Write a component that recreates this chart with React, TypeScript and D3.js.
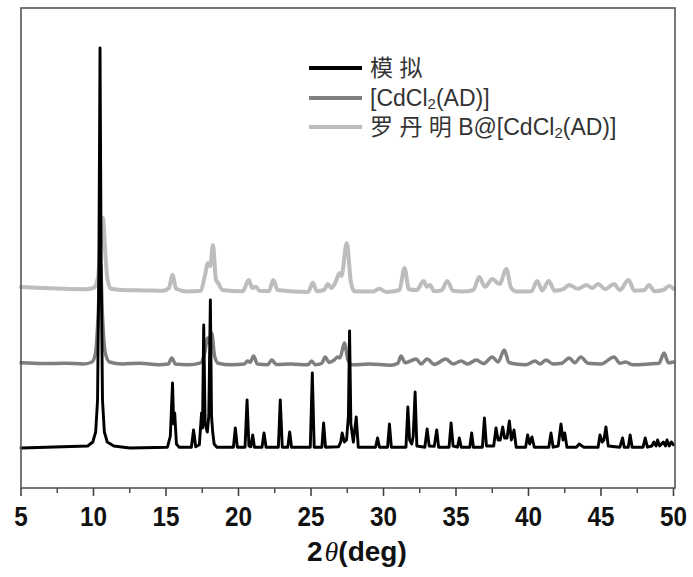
import React from "react";
import * as d3 from "d3";

// 2θ (deg) / intensity (a.u.)
const simulated: [number, number][] = [
  [5, 0], [9.6, 0.5], [9.95, 1.5], [10.15, 4], [10.28, 12], [10.37, 45], [10.45, 100], [10.53, 45], [10.62, 12], [10.75, 4], [10.95, 1.5], [11.4, 0.5], [12.5, 0],
  [15.1, 0.2], [15.3, 3], [15.45, 16.25], [15.53, 6], [15.6, 8.75], [15.72, 1], [15.9, 0.2],
  [16.75, 0.2], [16.9, 4.5], [17.05, 0.3], [17.3, 0.8], [17.45, 8.75], [17.52, 5], [17.6, 30.75], [17.7, 6], [17.85, 4], [17.95, 8], [18.06, 37], [18.14, 8], [18.22, 4], [18.32, 1], [18.5, 0.2],
  [19.65, 0.2], [19.78, 5], [19.92, 0.2], [20.45, 0.2], [20.59, 12], [20.72, 0.5], [20.85, 0.3], [20.98, 3.25], [21.1, 0.2],
  [21.62, 0.2], [21.76, 3.75], [21.9, 0.2], [22.75, 0.2], [22.88, 12], [23.02, 0.2], [23.4, 0.2], [23.53, 4], [23.66, 0.2],
  [24.95, 0.2], [25.09, 18.75], [25.22, 0.2], [25.75, 0.2], [25.87, 6.25], [26.0, 0.2],
  [26.9, 0.3], [27.05, 1.5], [27.15, 3.75], [27.3, 1.5], [27.45, 2], [27.58, 8], [27.66, 29.25], [27.75, 6], [27.92, 1.5], [28.12, 7.75], [28.26, 0.2],
  [29.45, 0.2], [29.59, 2.5], [29.72, 0.2], [30.28, 0.2], [30.41, 6], [30.54, 0.2],
  [31.55, 0.2], [31.68, 10.25], [31.8, 2], [31.95, 1], [32.05, 3], [32.18, 14], [32.3, 0.5],
  [32.85, 0.2], [33.01, 4.75], [33.15, 0.5], [33.5, 0.4], [33.67, 4.5], [33.8, 0.2],
  [34.52, 0.2], [34.66, 6.25], [34.8, 0.5], [35.1, 0.2], [35.23, 2.5], [35.36, 0.2], [35.95, 0.2], [36.08, 3.75], [36.2, 0.2],
  [36.82, 0.2], [36.96, 7.5], [37.1, 0.5], [37.6, 0.5], [37.76, 5], [37.9, 2], [38.05, 2], [38.22, 5.25], [38.35, 2.5], [38.52, 2.5], [38.68, 6.75], [38.82, 2], [39.0, 4.5], [39.15, 0.2],
  [39.8, 0.2], [39.94, 3.25], [40.08, 1], [40.24, 2.75], [40.4, 0.2], [41.4, 0.2], [41.55, 3.75], [41.7, 0.2],
  [42.05, 0.5], [42.24, 6], [42.38, 2], [42.5, 3.75], [42.65, 0.2], [43.3, 0.2], [43.5, 1], [43.8, 0.2],
  [44.8, 0.2], [44.93, 3.25], [45.08, 1.5], [45.2, 2], [45.34, 5.25], [45.5, 0.5], [46.3, 0.2], [46.49, 2.5], [46.6, 0.2],
  [46.88, 0.2], [47.01, 3.25], [47.15, 0.2], [47.9, 0.2], [48.05, 2.5], [48.2, 0.2], [48.5, 0.5], [48.65, 1.5], [48.8, 0.5],
  [48.9, 2], [49.05, 0.5], [49.3, 1.5], [49.45, 0.5], [49.55, 2], [49.7, 0.5], [49.85, 1.5], [50, 0.8],
];

const cdcl2: [number, number][] = [
  [5, 0.3], [6.5, 0.1], [8, 0.2], [9.3, 0], [9.9, 0.5], [10.15, 3], [10.32, 12], [10.48, 25], [10.62, 12], [10.8, 3], [11.1, 0.5], [12, 0], [13.2, 0.2], [14.5, -0.2],
  [15.15, 0], [15.4, 1.5], [15.65, 0], [16.5, -0.2], [17.4, 0.3], [17.65, 2.5], [17.88, 6.5], [18.0, 5], [18.15, 7.75], [18.35, 2], [18.6, 0.2], [19.5, -0.2],
  [20.4, 0], [20.63, 0.75], [20.8, 0.4], [21.04, 2], [21.3, 0], [22.0, -0.2], [22.3, 1], [22.6, -0.1], [23.6, 0], [24.8, -0.2],
  [25.04, 0.75], [25.3, -0.2], [25.75, 0.2], [25.98, 1.75], [26.25, 0.4], [26.6, 1], [26.85, 1.75], [27.0, 1.5], [27.3, 5.25], [27.55, 1], [27.85, -0.2],
  [29.0, 0], [30.5, -0.3], [31.0, 0.2], [31.2, 2], [31.5, 0.3], [32.25, 1.25], [32.6, 0], [33.0, 1.25], [33.5, -0.1],
  [34.3, 1.25], [34.8, 0], [35.35, 0.75], [35.8, 0], [36.4, 1], [36.9, 0.1], [37.5, 1.75], [37.9, 0.5], [38.33, 3.5], [38.65, 0.4], [39.1, 0], [39.8, -0.2],
  [40.45, 0.75], [40.8, 0], [41.2, 1], [41.7, 0], [42.3, 0.2], [42.8, 1.5], [43.2, 0.3], [43.6, 1.75], [44.1, 0.2], [45.0, 0],
  [45.9, 1.75], [46.3, 0.2], [46.7, 0.5], [47.2, -0.2], [48.3, 0], [49.0, 0.2], [49.35, 2.75], [49.65, 0.3], [50, 0.5],
];

const rhodamine: [number, number][] = [
  [5, 0.75], [6.5, 0.5], [8, 0.3], [9.5, 0.2], [10.0, 0.5], [10.3, 3], [10.5, 12], [10.65, 18], [10.8, 10], [10.95, 3], [11.2, 0.3], [12, 0], [13.5, -0.1], [14.8, -0.2],
  [15.2, 0.5], [15.45, 3.75], [15.7, 0.3], [16.5, -0.4], [17.4, -0.2], [17.65, 3], [17.9, 6.75], [18.05, 6], [18.24, 11.25], [18.45, 2.5], [18.6, 1.75], [18.9, 0],
  [20.3, -0.3], [20.7, 2.5], [20.95, 0.5], [21.2, 0.8], [21.45, -0.2], [22.1, -0.3], [22.4, 2.5], [22.7, 0], [24.8, -0.5],
  [25.13, 1.8], [25.4, -0.3], [25.9, 0], [26.16, 1.5], [26.4, 0.5], [26.7, 2], [26.97, 4.25], [27.1, 3.5], [27.47, 11.75], [27.75, 2], [28, -0.3],
  [29.3, -0.4], [29.7, 0.3], [30.2, -0.5], [31.1, 0], [31.45, 5.5], [31.75, 0.2], [32.3, 0], [32.76, 2.25], [33.0, 0.8], [33.2, 1.25], [33.5, -0.3],
  [34.0, -0.1], [34.4, 2.25], [34.8, -0.2], [35.5, -0.4], [36.2, 0], [36.6, 3.25], [37.0, 0.8], [37.5, 2.75], [38.0, 1.5], [38.48, 5.25], [38.8, 0.5], [39.2, -0.4],
  [40.2, -0.3], [40.6, 2.25], [40.95, -0.1], [41.4, 2.25], [41.8, -0.2], [42.4, 0.2], [42.8, 1.25], [43.4, 0.3], [44.0, 1.25], [44.4, 0.5], [44.8, 1.5], [45.3, 0.2],
  [45.9, 1.5], [46.3, 0], [46.9, 2.5], [47.3, -0.2], [48.0, 0], [48.3, 1.25], [48.7, -0.3], [49.3, 0], [49.7, 1], [50, 0.3],
];

const xTicks = [5, 10, 15, 20, 25, 30, 35, 40, 45, 50];
const legendLabels = ["模 拟", "[CdCl2(AD)]", "罗 丹 明 B@[CdCl2(AD)]"];

const W = 693;
const H = 577;
const m = { left: 21, right: 675, top: 8, bottom: 488 };

export default function App() {
  const x = d3.scaleLinear().domain([5, 50]).range([m.left, m.right - 1.5]);
  const y = d3.scaleLinear().domain([-10, 110]).range([m.bottom, m.top]);

  const traces = [
    { data: rhodamine, offset: 39.5, color: "#bdbdbd", width: 4 },
    { data: cdcl2, offset: 21, color: "#7f7f7f", width: 3.5 },
    { data: simulated, offset: 0, color: "#000", width: 2.9 },
  ];

  const minor = d3.range(7.5, 50, 5);

  const legendColors = ["#000", "#7f7f7f", "#bdbdbd"];
  const legendY = [68, 98, 127];

  const renderLabel = (s: string) => {
    const parts = s.split("Cl2");
    if (parts.length === 1) return s;
    return (
      <>
        {parts[0]}Cl
        <tspan fontSize={15} dy={3}>2</tspan>
        <tspan dy={-3}>{parts[1]}</tspan>
      </>
    );
  };

  return (
    <svg width={W} height={H} style={{ position: "absolute", left: 0, top: 0, background: "#fff" }}>
      {traces.map((t, i) => {
        const line = d3
          .line<[number, number]>()
          .x((d) => x(d[0]))
          .y((d) => y(d[1] + t.offset))
          .curve(i === 2 ? d3.curveLinear : d3.curveMonotoneX);
        return (
          <path key={i} d={line(t.data) || undefined} fill="none" stroke={t.color}
            strokeWidth={t.width} strokeLinejoin="round" strokeLinecap="round" />
        );
      })}

      <rect x={m.left} y={m.top} width={m.right - m.left} height={m.bottom - m.top}
        fill="none" stroke="#555" strokeWidth={1.6} />

      {xTicks.map((v) => (
        <g key={v}>
          <line x1={x(v)} x2={x(v)} y1={m.bottom} y2={m.bottom + 8} stroke="#444" strokeWidth={1.6} />
          <text transform={`translate(${x(v)},${526}) scale(0.9,1)`} textAnchor="middle"
            fontFamily="Liberation Sans, Arial, sans-serif" fontWeight="bold" fontSize={27} fill="#111">
            {v}
          </text>
        </g>
      ))}
      {minor.map((v) => (
        <line key={v} x1={x(v)} x2={x(v)} y1={m.bottom} y2={m.bottom + 5} stroke="#444" strokeWidth={1.4} />
      ))}

      <text x={307} y={561} fontFamily="Liberation Sans, Arial, sans-serif" fontWeight="bold" fontSize={28} fill="#111">
        2<tspan fontStyle="italic" fontFamily="Liberation Serif, serif" fontWeight="normal" dx={2}>θ</tspan>(deg)
      </text>

      {legendLabels.map((s, i) => (
        <g key={i}>
          <line x1={309} x2={362} y1={legendY[i]} y2={legendY[i]} stroke={legendColors[i]} strokeWidth={4} />
          <text x={370} y={legendY[i] + 8} fontFamily="Liberation Sans, 'Noto Sans CJK SC', sans-serif"
            fontSize={23} fill="#333">
            {renderLabel(s)}
          </text>
        </g>
      ))}
    </svg>
  );
}
